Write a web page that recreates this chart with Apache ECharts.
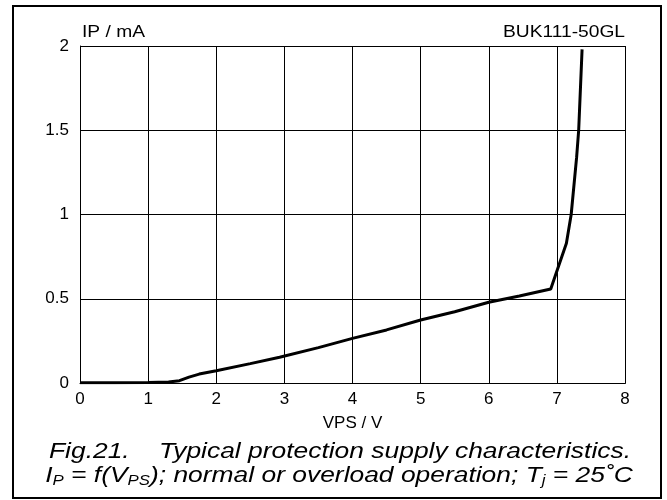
<!DOCTYPE html>
<html>
<head>
<meta charset="utf-8">
<script src="https://cdn.jsdelivr.net/npm/echarts@6/dist/echarts.min.js"></script>
<style>
html,body{margin:0;padding:0;background:#fff;}
#c{width:667px;height:500px;}
</style>
</head>
<body>
<div id="c"></div>
<script>
var vps = [0, 0.5, 1.0, 1.3, 1.46, 1.6, 1.75, 2.0, 2.5, 2.93, 3.5, 4.0, 4.5, 5.0, 5.5, 6.0, 6.45, 6.91, 7.14, 7.21, 7.29, 7.32, 7.37];
var ip  = [0.002, 0.002, 0.003, 0.006, 0.014, 0.035, 0.053, 0.073, 0.115, 0.153, 0.21, 0.265, 0.315, 0.374, 0.423, 0.479, 0.516, 0.558, 0.83, 1.0, 1.34, 1.5, 1.98];
var xTitle = 'VPS / V';
var yTitle = 'IP / mA';
var partName = 'BUK111-50GL';
var caption1 = 'Fig.21.    Typical protection supply characteristics.';

var FONT = '"Liberation Sans", Arial, sans-serif';
var chart = echarts.init(document.getElementById('c'), null, {renderer: 'canvas'});
var pts = vps.map(function (v, i) { return [v, ip[i]]; });

chart.setOption({
  animation: false,
  backgroundColor: '#fff',
  grid: {left: 80, right: 42, top: 46, bottom: 117, show: false},
  xAxis: {
    type: 'value', min: 0, max: 8, interval: 1,
    name: xTitle, nameLocation: 'middle', nameGap: 32,
    nameTextStyle: {color: '#000', fontSize: 17, fontFamily: FONT},
    axisLine: {show: true, lineStyle: {color: '#000', width: 1}},
    axisTick: {show: false},
    axisLabel: {color: '#000', fontSize: 17, fontFamily: FONT, margin: 8},
    splitLine: {show: true, lineStyle: {color: '#000', width: 1}}
  },
  yAxis: {
    type: 'value', min: 0, max: 2, interval: 0.5,
    axisLine: {show: true, lineStyle: {color: '#000', width: 1}},
    axisTick: {show: false},
    axisLabel: {color: '#000', fontSize: 17, fontFamily: FONT, margin: 11},
    splitLine: {show: true, lineStyle: {color: '#000', width: 1}}
  },
  series: [{
    type: 'line', data: pts, symbol: 'none', smooth: false,
    lineStyle: {color: '#000', width: 3}
  }],
  graphic: [
    {type: 'rect', shape: {x: 13, y: 6, width: 648, height: 492},
     style: {fill: 'none', stroke: '#000', lineWidth: 2}, z: 100},
    {type: 'rect', shape: {x: 80.5, y: 46.5, width: 545, height: 337},
     style: {fill: 'none', stroke: '#000', lineWidth: 1}, z: 100},
    {type: 'text', x: 82, y: 33, scaleX: 1.2,
     style: {text: yTitle, fill: '#000', font: '16px ' + FONT, textVerticalAlign: 'middle'}},
    {type: 'text', x: 625, y: 33, scaleX: 1.2,
     style: {text: partName, fill: '#000', font: '16px ' + FONT, textAlign: 'right', textVerticalAlign: 'middle'}},
    {type: 'text', x: 340, y: 452, scaleX: 1.2,
     style: {text: caption1, fill: '#000', font: 'italic 22px ' + FONT,
             textAlign: 'center', textVerticalAlign: 'middle'}},
    {type: 'text', x: 339, y: 476, scaleX: 1.2,
     style: {
       text: '{m|I}{s|P}{m| = f(V}{s|PS}{m|); normal or overload operation; T}{s|j}{m| = 25˚C}',
       textAlign: 'center', textVerticalAlign: 'middle',
       rich: {
         m: {fontSize: 22, fontStyle: 'italic', fontFamily: FONT, fill: '#000', lineHeight: 24, verticalAlign: 'middle'},
         s: {fontSize: 14, fontStyle: 'italic', fontFamily: FONT, fill: '#000', lineHeight: 24, verticalAlign: 'bottom', padding: [10, 0, 0, 0]}
       }
     }}
  ]
});
</script>
</body>
</html>
